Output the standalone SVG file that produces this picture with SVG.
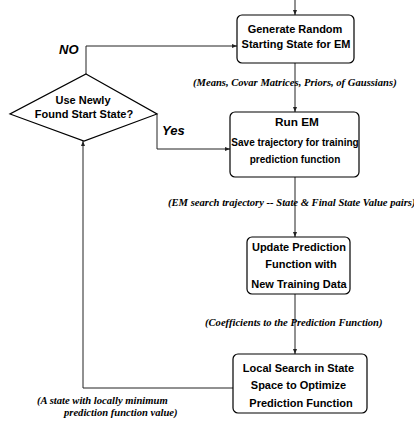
<svg xmlns="http://www.w3.org/2000/svg" width="414" height="421" viewBox="0 0 414 421">
<defs>
<marker id="ah" viewBox="0 0 10 10" refX="10" refY="5" markerWidth="5" markerHeight="5" markerUnits="userSpaceOnUse" orient="auto">
<path d="M0,1 L10,5 L0,9 z" fill="#222"/>
</marker>
</defs>
<style>
.box{fill:#fff;stroke:#000;stroke-width:1.2}
.t{font-family:"Liberation Sans",Arial,sans-serif;font-weight:bold;font-size:11px;fill:#000;text-anchor:middle}
.lab{font-family:"Liberation Serif","Times New Roman",serif;font-weight:bold;font-style:italic;font-size:10.6px;fill:#000}
.yn{font-family:"Liberation Sans",Arial,sans-serif;font-weight:bold;font-style:italic;font-size:13px;fill:#000}
.c{fill:none;stroke:#222;stroke-width:1}
</style>
<rect width="414" height="421" fill="#fff"/>
<g id="connectors">
<path class="c" d="M295,0 V15" marker-end="url(#ah)"/>
<path class="c" d="M295,63 V112" marker-end="url(#ah)"/>
<path class="c" d="M295,177 V237" marker-end="url(#ah)"/>
<path class="c" d="M295,294 V354" marker-end="url(#ah)"/>
<path class="c" d="M86,74 V46 H237" marker-end="url(#ah)"/>
<path class="c" d="M157,114 V149 H230" marker-end="url(#ah)"/>
<path class="c" d="M233,388 H83 V141" marker-end="url(#ah)"/>
<text class="yn" x="59" y="54">NO</text>
<text class="yn" x="162" y="135">Yes</text>
<text class="lab" x="193" y="86">(Means, Covar Matrices, Priors, of Gaussians)</text>
<text class="lab" x="168" y="206">(EM search trajectory -- State &amp; Final State Value pairs)</text>
<text class="lab" x="205" y="326">(Coefficients to the Prediction Function)</text>
<text class="lab" x="37" y="404">(A state with locally minimum</text>
<text class="lab" x="64" y="416">prediction function value)</text>
</g>
<g id="generate">
<rect class="box" x="237" y="15" width="117" height="48" rx="5"/>
<text class="t" x="295" y="33">Generate Random</text>
<text class="t" x="296" y="48">Starting State for EM</text>
</g>
<g id="decision">
<polygon class="box" points="86,74 157,114 84,141 10,114"/>
<text class="t" x="83" y="104">Use Newly</text>
<text class="t" x="84" y="118">Found Start State?</text>
</g>
<g id="runem">
<rect class="box" x="230" y="112" width="129" height="65" rx="5"/>
<text class="t" x="297" y="126" style="font-size:11.8px">Run EM</text>
<text class="t" x="295" y="146" style="font-size:10px">Save trajectory for training</text>
<text class="t" x="295" y="163" style="font-size:10px">prediction function</text>
</g>
<g id="update">
<rect class="box" x="247" y="237" width="103" height="57" rx="5"/>
<text class="t" x="299" y="251">Update Prediction</text>
<text class="t" x="301" y="268">Function with</text>
<text class="t" x="299" y="288">New Training Data</text>
</g>
<g id="localsearch">
<rect class="box" x="233" y="354" width="134" height="59" rx="5"/>
<text class="t" x="298.5" y="372">Local Search in State</text>
<text class="t" x="298.5" y="389">Space to Optimize</text>
<text class="t" x="301" y="407">Prediction Function</text>
</g>
</svg>
